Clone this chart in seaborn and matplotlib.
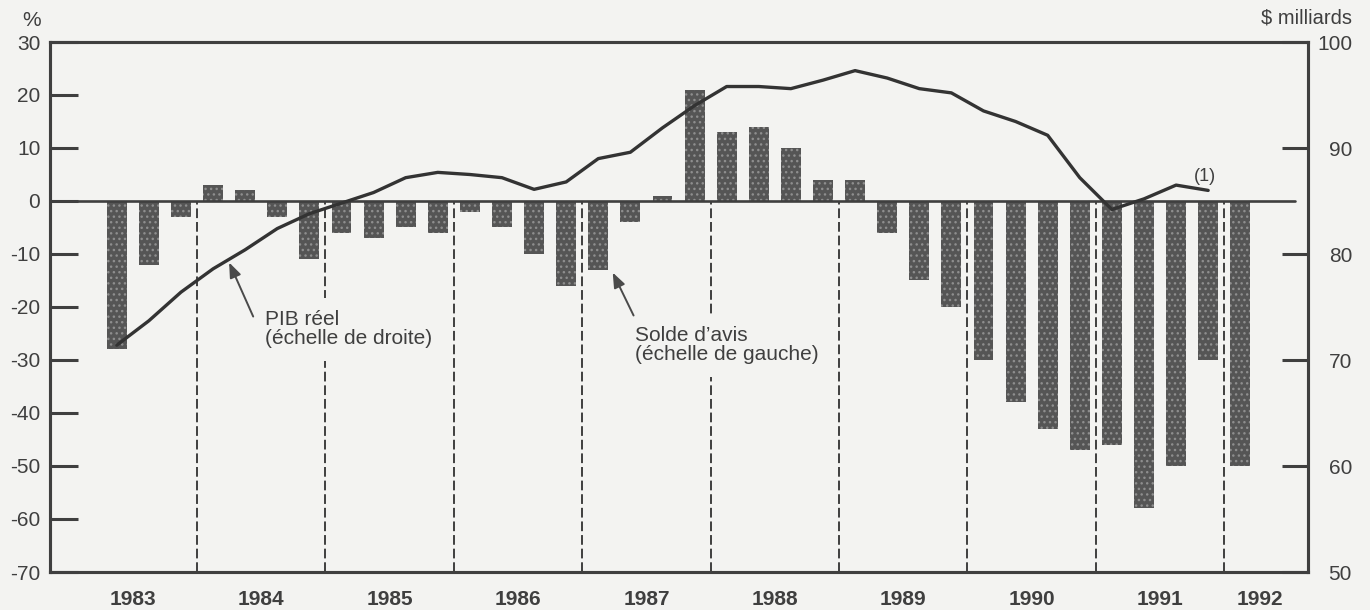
import numpy as np
import pandas as pd
import matplotlib
matplotlib.use("Agg")
import matplotlib.pyplot as plt
import seaborn as sns

# ---------------- data ----------------
years = [1983, 1984, 1985, 1986, 1987, 1988, 1989, 1990, 1991, 1992]

# Solde d'avis (%), quarterly, starting 1983 Q2
solde_start = (1983, 2)
solde = [-28, -12, -3,
         3, 2, -3, -11,
         -6, -7, -5, -6,
         -2, -5, -10, -16,
         -13, -4, 1, 21,
         13, 14, 10, 4,
         4, -6, -15, -20,
         -30, -38, -43, -47,
         -46, -58, -50, -30,
         -50]

# PIB reel ($ milliards), quarterly, starting 1983 Q2
pib_start = (1983, 2)
pib = [71.4, 73.7, 76.4,
       78.6, 80.4, 82.4, 83.8,
       84.8, 85.8, 87.2, 87.7,
       87.5, 87.2, 86.1, 86.8,
       89.0, 89.6, 91.9, 94.0,
       95.8, 95.8, 95.6, 96.4,
       97.3, 96.6, 95.6, 95.2,
       93.5, 92.5, 91.2, 87.2,
       84.2, 85.2, 86.5, 86.0]

left_ticks = [30, 20, 10, 0, -10, -20, -30, -40, -50, -60, -70]
right_ticks = [100, 90, 80, 70, 60, 50]


def qindex(year, q):
    return (year - years[0]) * 4 + (q - 1)


df_solde = pd.DataFrame({
    "t": qindex(*solde_start) + np.arange(len(solde)),
    "solde": solde,
})
df_pib = pd.DataFrame({
    "t": qindex(*pib_start) + np.arange(len(pib)),
    "pib": pib,
})

# ---------------- style ----------------
sns.set_style("white")
plt.rcParams["font.family"] = ["Liberation Sans", "DejaVu Sans"]
plt.rcParams["axes.unicode_minus"] = False
plt.rcParams["hatch.linewidth"] = 1.0

INK = "#3f3f3f"
BG = "#f3f3f1"
BAR = "#555555"

fig = plt.figure(figsize=(13.7, 6.1), dpi=100, facecolor=BG)
ax = fig.add_axes([50 / 1370, 1 - 572 / 610, (1308 - 50) / 1370, (572 - 42) / 610])
ax.set_facecolor(BG)

# bars (left scale)
sns.barplot(data=df_solde, x="t", y="solde", native_scale=True, width=0.62,
            color=BAR, errorbar=None, ax=ax, zorder=2)
for p in ax.patches:
    p.set_facecolor(BAR)
    p.set_edgecolor("#8e8e8e")
    p.set_linewidth(0)
    p.set_hatch("...")

xmin, xmax = -1.08, 38.11
ax.set_xlim(xmin, xmax)
ax.set_ylim(-70, 30)

# zero line (stops short of the right axis)
zero_end = 37.7
ax.axhline(0, xmin=0, xmax=(zero_end - xmin) / (xmax - xmin), color=INK, lw=1.9, zorder=4)

# dashed year separators below zero
seps = [qindex(y, 1) - 0.5 for y in years[1:]]
ax.vlines(seps, -70, 0, colors=INK, linestyles=(0, (5, 2)), lw=1.4, zorder=1)

# line (right scale)
ax2 = ax.twinx()
sns.lineplot(data=df_pib, x="t", y="pib", ax=ax2, color="#333333", lw=2.4, zorder=5)
ax2.set_ylim(50, 100)
ax2.set_xlim(xmin, xmax)

# ticks
ax.set_yticks(left_ticks)
ax.set_yticklabels([str(v) for v in left_ticks])
ax.tick_params(axis="y", direction="in", length=20, width=2.2, pad=7,
               labelsize=15, colors=INK)
ax.tick_params(axis="y", labelcolor=INK)

year_pos = [qindex(y, 1) + 1.5 for y in years]
year_pos[-1] = (qindex(years[-1], 1) - 0.5 + zero_end) / 2
ax.set_xticks(year_pos)
ax.set_xticklabels([str(y) for y in years], fontweight="bold")
ax.tick_params(axis="x", length=0, pad=13, labelsize=15, labelcolor=INK)

ax2.set_yticks(right_ticks)
ax2.set_yticklabels([str(v) for v in right_ticks])
ax2.tick_params(axis="y", direction="in", length=19, width=2.2, pad=31.7,
                labelsize=15, colors=INK)
for lbl in ax2.get_yticklabels():
    lbl.set_horizontalalignment("right")

for a in (ax, ax2):
    a.set_xlabel("")
    a.set_ylabel("")
    for s in a.spines.values():
        s.set_visible(True)
        s.set_color(INK)
        s.set_linewidth(2.2)

# annotations
box = dict(boxstyle="square,pad=0.6", facecolor=BG, edgecolor="none")
ax.text(5.62, -20.6, "PIB réel\n(échelle de droite)", fontsize=15, color=INK,
        ha="left", va="top", linespacing=1.0, bbox=box, zorder=6)
ax.annotate("", xy=(4.5, -11.6), xytext=(5.25, -21.8),
            arrowprops=dict(arrowstyle="-|>,head_length=0.9,head_width=0.35",
                            color="#4a4a4a", lw=1.4, shrinkA=0, shrinkB=0), zorder=7)

ax.text(17.15, -23.6, "Solde d\u2019avis\n(échelle de gauche)", fontsize=15, color=INK,
        ha="left", va="top", linespacing=1.0, bbox=box, zorder=6)
ax.annotate("", xy=(16.45, -13.5), xytext=(17.1, -21.6),
            arrowprops=dict(arrowstyle="-|>,head_length=0.9,head_width=0.35",
                            color="#4a4a4a", lw=1.4, shrinkA=0, shrinkB=0), zorder=7)

ax.text(34.9, 4.6, "(1)", fontsize=13, color=INK, ha="center", va="center")

fig.text(32 / 1370, 1 - 20 / 610, "%", fontsize=15, color=INK, ha="center", va="center")
fig.text(1352 / 1370, 1 - 18 / 610, "$ milliards", fontsize=14.5, color=INK,
         ha="right", va="center")

fig.savefig("out.png", dpi=100, facecolor=BG)
